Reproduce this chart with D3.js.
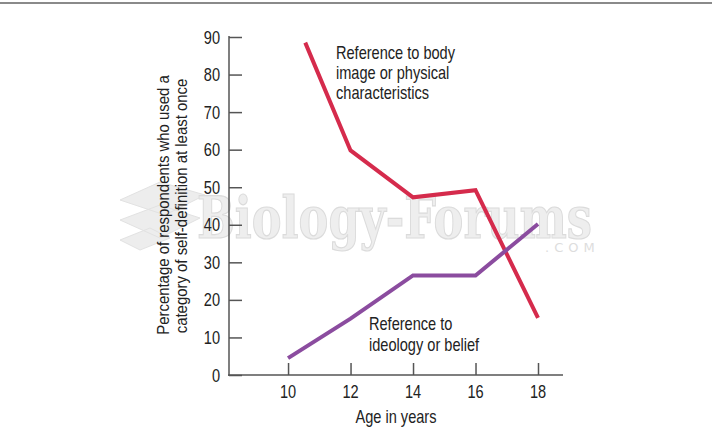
<!DOCTYPE html>
<html><head><meta charset="utf-8">
<script src="https://cdn.jsdelivr.net/npm/d3@7/dist/d3.min.js"></script>
<style>
body{margin:0;background:#fff;}
svg{display:block;font-family:"Liberation Sans",Arial,sans-serif;}
</style></head><body>
<svg id="chart" width="712" height="436"></svg>
<script>
const xTicks = [10, 12, 14, 16, 18];
const yTicks = [0, 10, 20, 30, 40, 50, 60, 70, 80, 90];
const bodyAges = [10.55, 12, 14, 16, 18];
const bodyValues = [88.5, 59.8, 47.3, 49.2, 15.2];
const ideologyAges = [10, 12, 14, 16, 18];
const ideologyValues = [4.5, 15, 26.5, 26.5, 40.2];
const bodyLabel = ["Reference to body", "image or physical", "characteristics"];
const ideologyLabel = ["Reference to", "ideology or belief"];
const yTitle = ["Percentage of respondents who used a", "category of self-definition at least once"];
const xTitle = "Age in years";

const svg = d3.select("#chart");
const SX = 0.81; // condensed look

function addText(parent, str, x, y, size, anchor, sx, rot) {
  return parent.append("text")
    .attr("transform", `translate(${x},${y})` + (rot ? ` rotate(${rot})` : "") + ` scale(${sx},1)`)
    .attr("text-anchor", anchor || "start")
    .attr("font-size", size).attr("fill", "#222").text(str);
}

// top rule
svg.append("rect").attr("x",0).attr("y",2).attr("width",712).attr("height",2).attr("fill","#8a8a8a");

const x = d3.scaleLinear().domain([8.11, 18.8]).range([229, 563]);
const y = d3.scaleLinear().domain([0, 90]).range([375, 37]);

// watermark
const wm = svg.append("g").attr("opacity",0.6);
wm.append("path").attr("d","M120,200 L160,182 L205,195 L165,215 Z M120,220 L160,205 L200,218 L160,238 Z M120,240 L150,228 L170,238 L140,250 Z")
  .attr("fill","#e2e2e2").attr("stroke","#cfcfcf").attr("stroke-width",1);
wm.append("text").attr("x",197).attr("y",238).attr("font-family","'DejaVu Serif','Liberation Serif',serif")
  .attr("font-weight","bold").attr("font-size",58).attr("fill","#e4e4e4").attr("stroke","#c4c4c4").attr("stroke-width",1.2)
  .attr("textLength",395).attr("lengthAdjust","spacingAndGlyphs").text("Biology-Forums");
wm.append("text").attr("x",545).attr("y",252).attr("font-family","'DejaVu Sans',sans-serif")
  .attr("font-size",13).attr("fill","#c8c8c8").attr("letter-spacing",5).text(".COM");

const axisColor = "#555";
// y axis
const gy = svg.append("g").attr("transform","translate(229,0)")
  .call(d3.axisRight(y).tickValues(yTicks).tickSize(13).tickFormat(""));
gy.select(".domain").remove();
gy.selectAll(".tick line").attr("stroke",axisColor).attr("stroke-width",1.5);
svg.append("line").attr("x1",229).attr("x2",229).attr("y1",y(90)-1).attr("y2",376).attr("stroke",axisColor).attr("stroke-width",1.5);
const yl = svg.append("g");
yTicks.forEach(d => addText(yl, d, 220, y(d) + 6.5, 18, "end", SX));

// x axis
const gx = svg.append("g").attr("transform","translate(0,375)")
  .call(d3.axisTop(x).tickValues(xTicks).tickSize(12).tickFormat(""));
gx.select(".domain").remove();
gx.selectAll(".tick line").attr("stroke",axisColor).attr("stroke-width",1.5);
svg.append("line").attr("x1",228).attr("x2",563).attr("y1",375).attr("y2",375).attr("stroke",axisColor).attr("stroke-width",1.5);
const xl = svg.append("g");
xTicks.forEach(d => addText(xl, d, x(d), 398, 18, "middle", SX));

addText(svg, xTitle, 396, 423, 18, "middle", SX);

// y title
addText(svg, yTitle[0], 169, 205, 16.5, "middle", 0.905, -90);
addText(svg, yTitle[1], 187, 206, 16.5, "middle", 0.905, -90);

// lines
const line = d3.line().x(d=>x(d[0])).y(d=>y(d[1]));
svg.append("path").datum(bodyAges.map((a,i)=>[a,bodyValues[i]]))
  .attr("d",line).attr("fill","none").attr("stroke","#d52b4c").attr("stroke-width",4).attr("stroke-linejoin","miter");
svg.append("path").datum(ideologyAges.map((a,i)=>[a,ideologyValues[i]]))
  .attr("d",line).attr("fill","none").attr("stroke","#8b4c9f").attr("stroke-width",4).attr("stroke-linejoin","miter");

// labels
bodyLabel.forEach((t,i)=>addText(svg, t, 336, 59 + i*20, 18, "start", SX));
ideologyLabel.forEach((t,i)=>addText(svg, t, 369, 330 + i*21, 18, "start", SX));
</script>
</body></html>
